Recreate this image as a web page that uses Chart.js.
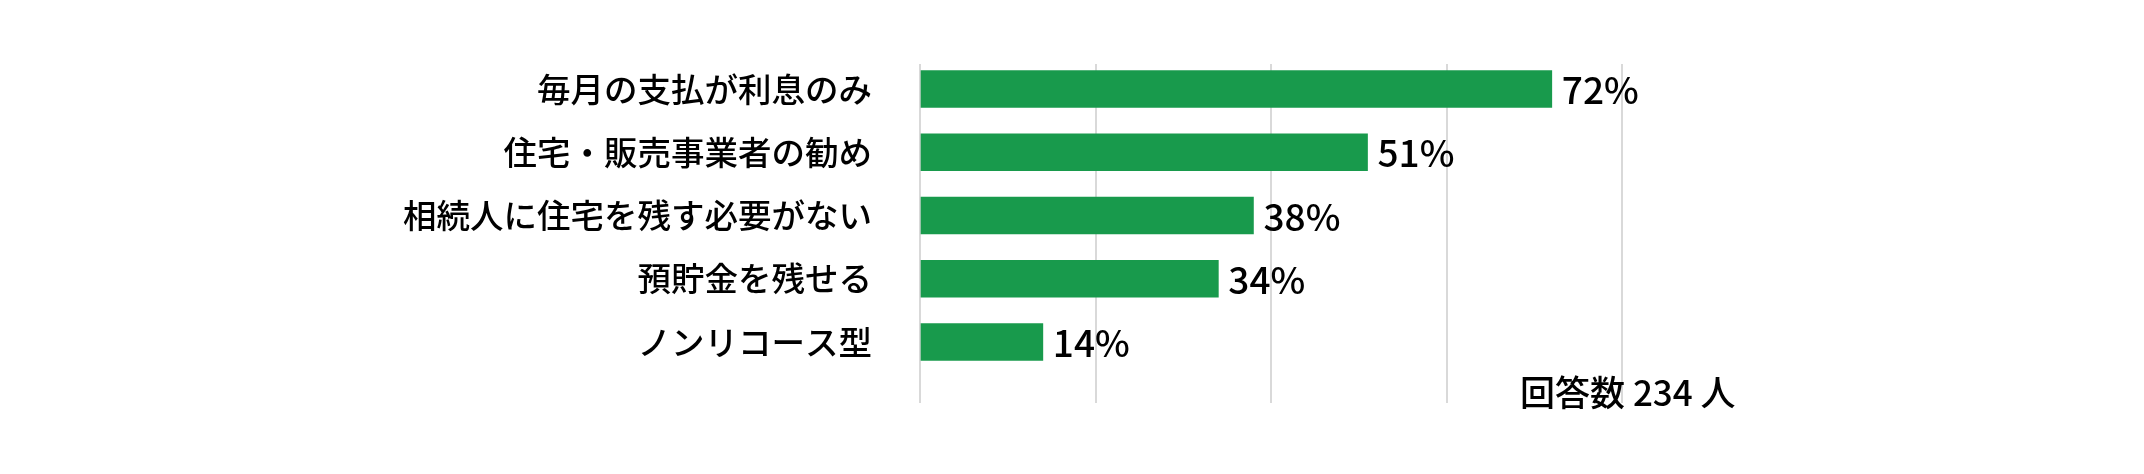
<!DOCTYPE html>
<html lang="ja">
<head>
<meta charset="utf-8">
<script src="https://cdn.jsdelivr.net/npm/chart.js@4.4.1/dist/chart.umd.min.js"></script>
<style>
  html, body { margin: 0; padding: 0; background: #fff; }
  #wrap { width: 2144px; height: 474px; }
</style>
</head>
<body>
<div id="wrap"><canvas id="surveyChart"></canvas></div>
<script>
const categories = ['毎月の支払が利息のみ', '住宅・販売事業者の勧め', '相続人に住宅を残す必要がない', '預貯金を残せる', 'ノンリコース型'];
const shares = [72, 51, 38, 34, 14];
const xTicks = [0, 20, 40, 60, 80];
const respondentNote = '回答数 234 人';

const FONT = '"Noto Sans CJK JP", "Noto Sans", sans-serif';
const GREEN = '#189a4c';

// bar-end percentages + the respondent count under the plot
const valueLabels = {
    id: 'valueLabels',
    afterDatasetsDraw(chart) {
        const { ctx, chartArea } = chart;
        const meta = chart.getDatasetMeta(0);
        ctx.save();
        ctx.fillStyle = '#000';
        ctx.textBaseline = 'middle';
        ctx.font = '500 37px ' + FONT;
        meta.data.forEach((bar, i) => {
            ctx.fillText(shares[i] + '%', bar.x + 10, bar.y + 1);
        });
        ctx.font = '500 35px ' + FONT;
        ctx.fillText(respondentNote, chartArea.right - 102, chartArea.bottom - 10);
        ctx.restore();
    }
};

new Chart(document.getElementById('surveyChart'), {
    type: 'bar',
    data: {
        datasets: [{
            data: shares.map((v, i) => ({ x: v, y: i })),
            backgroundColor: GREEN,
            borderWidth: 0,
            barThickness: 37
        }]
    },
    options: {
        indexAxis: 'y',
        responsive: true,
        maintainAspectRatio: false,
        devicePixelRatio: 1,
        animation: false,
        layout: { padding: { left: 0, right: 522, top: 64, bottom: 71 } },
        plugins: { legend: { display: false }, tooltip: { enabled: false } },
        scales: {
            x: {
                min: xTicks[0],
                max: xTicks[xTicks.length - 1],
                afterBuildTicks: s => { s.ticks = xTicks.map(v => ({ value: v })); },
                afterFit: s => { s.height = 0; },
                ticks: { display: false },
                grid: { color: '#d9d9d9', lineWidth: 2, drawTicks: false },
                border: { display: false }
            },
            y: {
                type: 'linear',
                reverse: true,
                offset: false,
                min: -0.395,
                max: 4.964,
                afterFit: s => { s.width = 920; },
                ticks: {
                    stepSize: 1,
                    includeBounds: false,
                    autoSkip: false,
                    padding: 40,
                    color: '#000',
                    font: { family: FONT, size: 33.5, weight: 500 },
                    callback: v => Number.isInteger(v) ? categories[v] : ''
                },
                grid: { display: false, offset: false },
                border: { display: false }
            }
        }
    },
    plugins: [valueLabels]
});
</script>
</body>
</html>
